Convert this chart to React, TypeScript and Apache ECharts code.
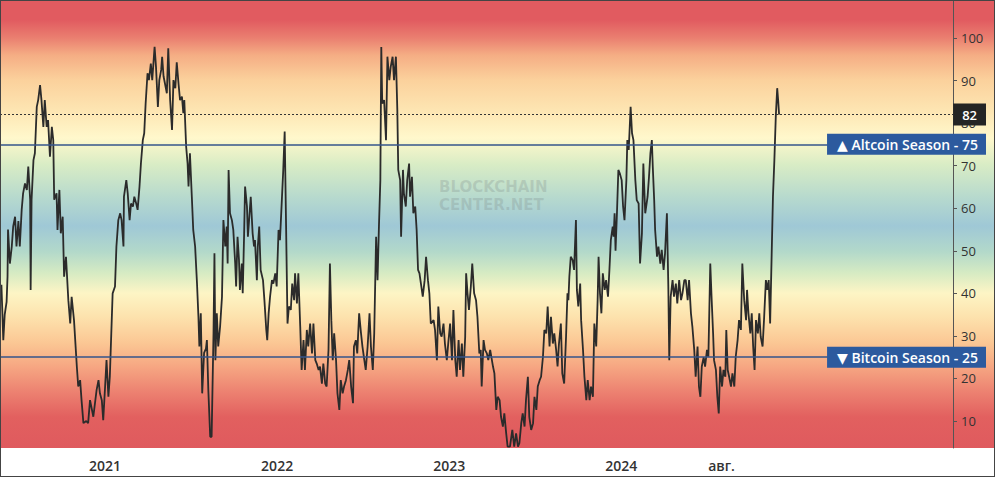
import React, { useEffect, useRef } from "react";
import * as echarts from "echarts";

// ---- Data ----
const SERIES_DATES: string[] = [
  // 2020
  "2020-05-26","2020-05-30","2020-06-02","2020-06-06","2020-06-08","2020-06-09","2020-06-13","2020-06-17","2020-06-20","2020-06-24",
  "2020-06-27","2020-07-01","2020-07-04","2020-07-08","2020-07-11","2020-07-15","2020-07-19","2020-07-22","2020-07-26","2020-07-27",
  "2020-07-29","2020-08-02","2020-08-05","2020-08-09","2020-08-12","2020-08-16","2020-08-19","2020-08-23","2020-08-26","2020-08-30",
  "2020-09-02","2020-09-06","2020-09-10","2020-09-13","2020-09-15","2020-09-20","2020-09-22","2020-09-26","2020-09-29","2020-10-03",
  "2020-10-06","2020-10-10","2020-10-15","2020-10-19","2020-10-22","2020-10-27","2020-11-02","2020-11-05","2020-11-09","2020-11-12",
  "2020-11-16","2020-11-22","2020-11-26","2020-11-30","2020-12-07","2020-12-14","2020-12-18","2020-12-21","2020-12-25","2020-12-28",
  // 2021
  "2021-01-01","2021-01-04","2021-01-08","2021-01-11","2021-01-17","2021-01-22","2021-01-25","2021-01-29","2021-02-02","2021-02-05",
  "2021-02-09","2021-02-10","2021-02-15","2021-02-18","2021-02-22","2021-02-25","2021-03-01","2021-03-04","2021-03-08","2021-03-11",
  "2021-03-15","2021-03-18","2021-03-22","2021-03-25","2021-03-28","2021-04-01","2021-04-04","2021-04-08","2021-04-11","2021-04-16",
  "2021-04-19","2021-04-23","2021-04-26","2021-04-30","2021-05-02","2021-05-05","2021-05-08","2021-05-12","2021-05-15","2021-05-19",
  "2021-05-23","2021-05-26","2021-05-30","2021-06-02","2021-06-06","2021-06-09","2021-06-13","2021-06-16","2021-06-18","2021-06-22",
  "2021-06-25","2021-06-27","2021-06-30","2021-07-04","2021-07-07","2021-07-11","2021-07-15","2021-07-18","2021-07-20","2021-07-23",
  "2021-07-26","2021-07-30","2021-08-03","2021-08-05","2021-08-08","2021-08-12","2021-08-15","2021-08-19","2021-08-21","2021-08-23",
  "2021-08-26","2021-08-29","2021-09-02","2021-09-06","2021-09-09","2021-09-13","2021-09-16","2021-09-18","2021-09-20","2021-09-23",
  "2021-09-27","2021-09-30","2021-10-04","2021-10-06","2021-10-09","2021-10-12","2021-10-14","2021-10-18","2021-10-20","2021-10-23",
  "2021-10-25","2021-10-29","2021-10-31","2021-11-03","2021-11-06","2021-11-10","2021-11-13","2021-11-15","2021-11-19","2021-11-21",
  "2021-11-24","2021-11-27","2021-12-02","2021-12-05","2021-12-09","2021-12-11","2021-12-14","2021-12-17","2021-12-21","2021-12-24",
  "2021-12-28","2021-12-31",
  // 2022
  "2022-01-04","2022-01-07","2022-01-11","2022-01-14","2022-01-17","2022-01-20","2022-01-23","2022-01-26","2022-01-30","2022-02-02",
  "2022-02-06","2022-02-08","2022-02-12","2022-02-15","2022-02-19","2022-02-22","2022-02-26","2022-03-01","2022-03-05","2022-03-08",
  "2022-03-12","2022-03-16","2022-03-19","2022-03-23","2022-03-26","2022-03-30","2022-04-02","2022-04-06","2022-04-09","2022-04-13",
  "2022-04-16","2022-04-20","2022-04-23","2022-04-26","2022-04-29","2022-05-02","2022-05-06","2022-05-09","2022-05-13","2022-05-16",
  "2022-05-20","2022-05-23","2022-05-27","2022-05-31","2022-06-03","2022-06-07","2022-06-11","2022-06-13","2022-06-17","2022-06-20",
  "2022-06-24","2022-06-28","2022-07-01","2022-07-05","2022-07-08","2022-07-12","2022-07-16","2022-07-19","2022-07-23","2022-07-26",
  "2022-07-30","2022-08-02","2022-08-05","2022-08-08","2022-08-10","2022-08-12","2022-08-16","2022-08-20","2022-08-23","2022-08-27",
  "2022-08-30","2022-09-03","2022-09-06","2022-09-10","2022-09-13","2022-09-15","2022-09-19","2022-09-21","2022-09-25","2022-09-27",
  "2022-10-01","2022-10-04","2022-10-08","2022-10-10","2022-10-14","2022-10-17","2022-10-21","2022-10-24","2022-10-27","2022-10-30",
  "2022-11-03","2022-11-06","2022-11-10","2022-11-13","2022-11-17","2022-11-20","2022-11-23","2022-11-29","2022-12-02","2022-12-06",
  "2022-12-09","2022-12-13","2022-12-16","2022-12-20","2022-12-23","2022-12-27","2022-12-30",
  // 2023
  "2023-01-03","2023-01-07","2023-01-10","2023-01-14","2023-01-17","2023-01-21","2023-01-24","2023-01-28","2023-01-31","2023-02-04",
  "2023-02-06","2023-02-09","2023-02-12","2023-02-16","2023-02-19","2023-02-23","2023-02-27","2023-03-02","2023-03-06","2023-03-09",
  "2023-03-11","2023-03-15","2023-03-18","2023-03-22","2023-03-25","2023-03-29","2023-04-04","2023-04-07","2023-04-11","2023-04-14",
  "2023-04-18","2023-04-21","2023-04-25","2023-04-28","2023-05-02","2023-05-05","2023-05-10","2023-05-15","2023-05-19","2023-05-23",
  "2023-05-27","2023-05-30","2023-06-03","2023-06-06","2023-06-10","2023-06-13","2023-06-17","2023-06-20","2023-06-24","2023-06-28",
  "2023-07-01","2023-07-05","2023-07-08","2023-07-12","2023-07-15","2023-07-19","2023-07-22","2023-07-26","2023-07-29","2023-08-02",
  "2023-08-05","2023-08-09","2023-08-12","2023-08-16","2023-08-19","2023-08-22","2023-08-26","2023-08-29","2023-09-02","2023-09-06",
  "2023-09-09","2023-09-11","2023-09-13","2023-09-16","2023-09-20","2023-09-23","2023-09-27","2023-09-29","2023-10-02","2023-10-06",
  "2023-10-08","2023-10-12","2023-10-15","2023-10-19","2023-10-22","2023-10-26","2023-10-29","2023-11-02","2023-11-05","2023-11-09",
  "2023-11-12","2023-11-14","2023-11-17","2023-11-20","2023-11-23","2023-11-27","2023-11-30","2023-12-04","2023-12-07","2023-12-10",
  "2023-12-14","2023-12-16","2023-12-18","2023-12-20","2023-12-23","2023-12-26","2023-12-29",
  // 2024
  "2024-01-02","2024-01-05","2024-01-08","2024-01-12","2024-01-14","2024-01-17","2024-01-21","2024-01-24","2024-01-27","2024-01-31",
  "2024-02-03","2024-02-07","2024-02-10","2024-02-14","2024-02-17","2024-02-21","2024-02-26","2024-02-29","2024-03-03","2024-03-06",
  "2024-03-08","2024-03-11","2024-03-13","2024-03-17","2024-03-20","2024-03-24","2024-03-27","2024-03-31","2024-04-03","2024-04-07",
  "2024-04-10","2024-04-12","2024-04-15","2024-04-19","2024-04-22","2024-04-26","2024-04-29","2024-05-03","2024-05-07","2024-05-10",
  "2024-05-14","2024-05-17","2024-05-21","2024-05-24","2024-05-28","2024-05-31","2024-06-04","2024-06-07","2024-06-11","2024-06-14",
  "2024-06-17","2024-06-20","2024-06-24","2024-06-27","2024-07-01","2024-07-04","2024-07-08","2024-07-11","2024-07-14","2024-07-16",
  "2024-07-20","2024-07-23","2024-07-26","2024-07-29","2024-08-02","2024-08-05","2024-08-09","2024-08-11","2024-08-14","2024-08-17",
  "2024-08-21","2024-08-24","2024-08-28","2024-08-31","2024-09-04","2024-09-07","2024-09-11","2024-09-14","2024-09-18","2024-09-22",
  "2024-09-24","2024-09-27","2024-10-01","2024-10-04","2024-10-07","2024-10-10","2024-10-13","2024-10-17","2024-10-20","2024-10-23",
  "2024-10-27","2024-10-30","2024-11-03","2024-11-06","2024-11-09","2024-11-12","2024-11-15","2024-11-18","2024-11-21","2024-11-24",
  "2024-11-27","2024-11-29","2024-12-01",
];

const SERIES_VALUES: number[] = [
  // 2020
  42, 29, 35, 38, 44, 55, 47, 51, 55.7, 58,
  51, 57, 51, 59.6, 63.5, 65.8, 64.3, 69.8, 62, 40.8,
  62, 71.3, 72.9, 83.8, 85.4, 88.9, 85.4, 79.1, 85.4, 79.1,
  80.7, 72.1, 79.1, 76, 62, 63.5, 54.9, 64.3, 54.1, 58,
  43.9, 48.6, 38.4, 32.9, 39.2, 33.7, 22.8, 18.1, 19.6, 14.9,
  9.5, 10, 9.5, 14.9, 11, 17.3, 19.6, 16.5, 14.9, 10.2,
  // 2021
  18.1, 24.3, 15.7, 20.4, 40, 41.6, 51, 57.2, 58.8, 57.2,
  51, 62.7, 66.6, 63.5, 57.2, 61.1, 60.4, 62.7, 61.1, 59.6,
  65.1, 70.5, 76, 77.6, 84.6, 91.7, 90.1, 94, 90.1, 97.9,
  93.2, 83.8, 90.1, 92.5, 95.6, 91, 89.3, 87, 97.6, 85.4,
  78.4, 90.1, 88.2, 94.3, 89, 85.4, 86.2, 82.3, 85.4, 74.4,
  70.5, 65.1, 72.9, 62.7, 54.9, 51, 42.3, 34.5, 27.5, 35.3,
  16.5, 26, 27, 29, 17.3, 6.3, 6.3, 30.6, 49.4, 24.3,
  35.3, 27.5, 32.2, 39.2, 57.2, 51, 55.7, 47, 69, 58.8,
  57.2, 54.9, 47, 41.6, 53.3, 48, 40.8, 47, 40, 54.1,
  65.1, 60.4, 53.3, 58, 62.7, 54.1, 51, 52.5, 43.1, 51,
  55.7, 45.5, 43.1, 38.4, 31.4, 29, 35.3, 39.2, 43.1, 42.3,
  44.7, 41.6,
  // 2022
  54.9, 52.5, 61.9, 69, 78, 55.7, 32.9, 36.9, 36.1, 42.3,
  38.4, 44.7, 37.6, 44.7, 32.2, 22, 29, 22, 31.4, 27.5,
  32.9, 25.9, 32.9, 24.3, 23.5, 22, 22.8, 18.8, 23.5, 18.8,
  18.1, 26.7, 47, 33.7, 24.3, 30.6, 24.3, 16.5, 12.6, 19.6,
  16.5, 18.1, 19.6, 22, 24.3, 18.1, 14.2, 27.5, 29, 25.9,
  35.3, 30.6, 27.5, 24.3, 22, 27.5, 35.3, 27.5, 22, 30.6,
  53.3, 43.1, 55.7, 66.6, 97.9, 84.6, 85.4, 76, 95.6, 90.1,
  93.2, 95.6, 90.1, 95.6, 83.1, 69, 66.6, 53.3, 69, 63.5,
  60.4, 66.6, 70.5, 62.7, 67.4, 58.8, 60.4, 54.9, 45.5, 44.7,
  41.6, 39.2, 43.1, 48.6, 43.1, 40, 32.9, 33.7, 31.4, 24.3,
  36.9, 30.6, 29.8, 32.9, 28.2, 24.3, 28.2,
  // 2023
  32.9, 24.3, 36.1, 24.3, 20.4, 29, 22, 28.2, 20.4, 29.8,
  44.7, 40, 36.1, 41.6, 47, 40, 38.4, 34.5, 25.9, 26.7,
  18.1, 29, 26.7, 25.9, 24.3, 26.7, 22.8, 21.2, 12.6, 15.7,
  14.9, 11, 8.7, 11.8, 7.1, 4, 4, 7.9, 4, 7.1,
  4, 4.8, 9.5, 11.8, 8.7, 14.9, 20.4, 11, 7.9, 9.5,
  15.7, 12.6, 18.1, 19.6, 20.4, 25.1, 31.4, 30.6, 36.9, 27.5,
  34.5, 28.2, 30.6, 26.7, 22.8, 28.2, 32.9, 21.2, 18.8, 29.8,
  40, 38.4, 43.9, 48.6, 47.8, 45.5, 57.2, 40.8, 36.9, 42.3,
  33.7, 26.7, 20.4, 14.9, 19.6, 14.9, 18.1, 15.7, 32.9, 27.5,
  38.4, 48.6, 40, 35.3, 44.7, 40.8, 43.1, 39.2, 45.5, 52.5,
  55.7, 53.3, 58.8, 50, 58.8, 69, 68.2,
  // 2024
  66.6, 60.4, 57.2, 66.6, 76, 73.7, 83.8, 77.6, 76, 66.6,
  61.9, 61.1, 47, 54.1, 70.5, 58.8, 62.7, 67.4, 72.9, 76,
  69.8, 61.9, 54.9, 48.6, 51, 47, 50.2, 45.5, 49.4, 58.8,
  41.6, 24.3, 39.2, 43.1, 39.2, 42.3, 37.6, 43.1, 38.4, 40,
  43.1, 43.1, 38.4, 43.1, 35.3, 32.2, 26.7, 20.4, 27.5, 18.1,
  15.7, 22.8, 25, 22.8, 26.7, 25.1, 47, 38.4, 30.6, 24.3,
  22, 15.7, 11.8, 22.8, 18.1, 22, 20.4, 31.4, 22, 20.4,
  18.1, 21.2, 18.1, 25.1, 29, 33.7, 31.4, 47, 38.4, 33.7,
  40.8, 35.3, 30.6, 35.3, 27.5, 22, 33.7, 30.6, 35.3, 29.8,
  27.5, 33.7, 43.1, 40.8, 43.1, 32.9, 47.8, 62.7, 71.3, 81.5,
  88.2, 85.4, 82,
];

const Y_TICKS: number[] = [10, 20, 30, 40, 50, 60, 70, 80, 90, 100];
const X_TICK_DATES: string[] = ["2021-01-01", "2022-01-01", "2023-01-01", "2024-01-01", "2024-08-01"];
const X_TICK_LABELS: string[] = ["2021", "2022", "2023", "2024", "авг."];
const X_RANGE: string[] = ["2020-05-23", "2025-12-05"];
const Y_RANGE: number[] = [3.66, 108.92];
const ALTCOIN_LEVEL = 75;
const BITCOIN_LEVEL = 25;
const WATERMARK_LINES: string[] = ["BLOCKCHAIN", "CENTER.NET"];

// ---- Styles ----
const W = 995;
const H = 477;
const PLOT_H = 448;
const BG_STOPS: [number, string][] = [
  [0, "#e15b60"], [20, "#e15b60"], [38, "#ea7f70"], [55, "#f5ad84"], [80, "#fbd19c"],
  [110, "#fde5b2"], [138, "#fff8cc"], [165, "#d8ecc5"], [198, "#b6d9ce"], [226, "#9fc8d6"],
  [252, "#b3d9ca"], [273, "#d6ebc3"], [293, "#fdf5c5"], [317, "#fde2ad"], [343, "#fbc794"],
  [367, "#f6a682"], [393, "#ec8070"], [417, "#e2605f"], [448, "#df5a5e"],
];

function toTime(s: string): number {
  const [y, m, d] = s.split("-").map(Number);
  return new Date(y, m - 1, d).getTime();
}

export default function App() {
  const ref = useRef<HTMLDivElement | null>(null);

  useEffect(() => {
    if (!ref.current) return;
    const chart = echarts.init(ref.current, undefined, { renderer: "svg" });

    const data = SERIES_DATES.map((d, i) => [toTime(d), SERIES_VALUES[i]]);
    const lastValue = SERIES_VALUES[SERIES_VALUES.length - 1];
    const xTicks = X_TICK_DATES.map(toTime);
    const font = '"Open Sans", "DejaVu Sans", sans-serif';

    const gradient = new echarts.graphic.LinearGradient(
      0, 0, 0, 1,
      BG_STOPS.map(([y, c]) => ({ offset: y / PLOT_H, color: c }))
    );

    const watermarkStyle = {
      font: `700 15px "DejaVu Sans", sans-serif`,
      fill: "rgba(120,130,130,0.25)",
      verticalAlign: "middle",
    };

    const option: any = {
      animation: false,
      backgroundColor: "#ffffff",
      grid: { left: 0, right: 42, top: 0, bottom: H - PLOT_H, containLabel: false },
      graphic: [
        {
          type: "rect",
          z: -100,
          silent: true,
          shape: { x: 0, y: 0, width: W, height: PLOT_H },
          style: { fill: gradient },
        },
        {
          type: "text",
          z: -50,
          silent: true,
          x: 439,
          y: 187,
          style: { ...watermarkStyle, text: WATERMARK_LINES[0] },
        },
        {
          type: "text",
          z: -50,
          silent: true,
          x: 439,
          y: 205,
          style: { ...watermarkStyle, text: WATERMARK_LINES[1] },
        },
      ],
      xAxis: {
        type: "value",
        min: toTime(X_RANGE[0]),
        max: toTime(X_RANGE[1]),
        axisLine: { show: false },
        axisTick: { show: false },
        splitLine: { show: false },
        axisLabel: {
          customValues: xTicks,
          formatter: (v: number) => {
            const i = xTicks.indexOf(v);
            return i >= 0 ? X_TICK_LABELS[i] : "";
          },
          color: "#333",
          fontSize: 14,
          fontWeight: 600,
          fontFamily: font,
          margin: 10,
        },
      },
      yAxis: [
        {
          type: "value",
          position: "right",
          min: Y_RANGE[0],
          max: Y_RANGE[1],
          axisLine: { show: true, lineStyle: { color: "#555", width: 1 } },
          axisTick: { show: true, customValues: Y_TICKS, length: 4, lineStyle: { color: "#555" } },
          splitLine: { show: false },
          axisLabel: {
            customValues: Y_TICKS,
            color: "#333",
            fontSize: 13,
            fontFamily: font,
            margin: 8,
          },
        },
        {
          type: "value",
          position: "right",
          z: 20,
          min: Y_RANGE[0],
          max: Y_RANGE[1],
          axisLine: { show: false },
          axisTick: { show: false },
          splitLine: { show: false },
          axisLabel: {
            customValues: [BITCOIN_LEVEL, ALTCOIN_LEVEL, lastValue],
            align: "right",
            margin: 33,
            formatter: (v: number) => {
              if (v === ALTCOIN_LEVEL) return `{season|▲ Altcoin Season - ${ALTCOIN_LEVEL}}`;
              if (v === BITCOIN_LEVEL) return `{season|▼ Bitcoin Season - ${BITCOIN_LEVEL}}`;
              return `{last|${v}}`;
            },
            rich: {
              season: {
                backgroundColor: "#2c5a9e",
                color: "#ffffff",
                fontSize: 14,
                fontWeight: 600,
                fontFamily: font,
                height: 21,
                lineHeight: 21,
                padding: [0, 8, 0, 10],
              },
              last: {
                backgroundColor: "#242424",
                color: "#ffffff",
                fontSize: 13,
                fontWeight: 600,
                fontFamily: font,
                height: 22,
                lineHeight: 22,
                padding: [0, 9, 0, 9],
              },
            },
          },
        },
      ],
      series: [
        {
          type: "line",
          data,
          showSymbol: false,
          symbol: "none",
          z: 3,
          lineStyle: { color: "#2b2b2b", width: 1.8 },
          markLine: {
            silent: true,
            symbol: ["none", "none"],
            label: { show: false },
            data: [
              { yAxis: ALTCOIN_LEVEL, lineStyle: { color: "#34558b", width: 1.5, type: "solid" } },
              { yAxis: BITCOIN_LEVEL, lineStyle: { color: "#34558b", width: 1.5, type: "solid" } },
              { yAxis: lastValue, lineStyle: { color: "#333", width: 1, type: [2, 2] } },
            ],
          },
        },
      ],
    };

    chart.setOption(option);
    return () => chart.dispose();
  }, []);

  return (
    <div style={{ position: "fixed", left: 0, top: 0, width: W, height: H }}>
      <div ref={ref} style={{ width: W, height: H }} />
      <div
        style={{
          position: "absolute",
          left: 0,
          top: 0,
          width: W,
          height: H,
          boxSizing: "border-box",
          border: "1px solid #444",
          pointerEvents: "none",
        }}
      />
    </div>
  );
}
